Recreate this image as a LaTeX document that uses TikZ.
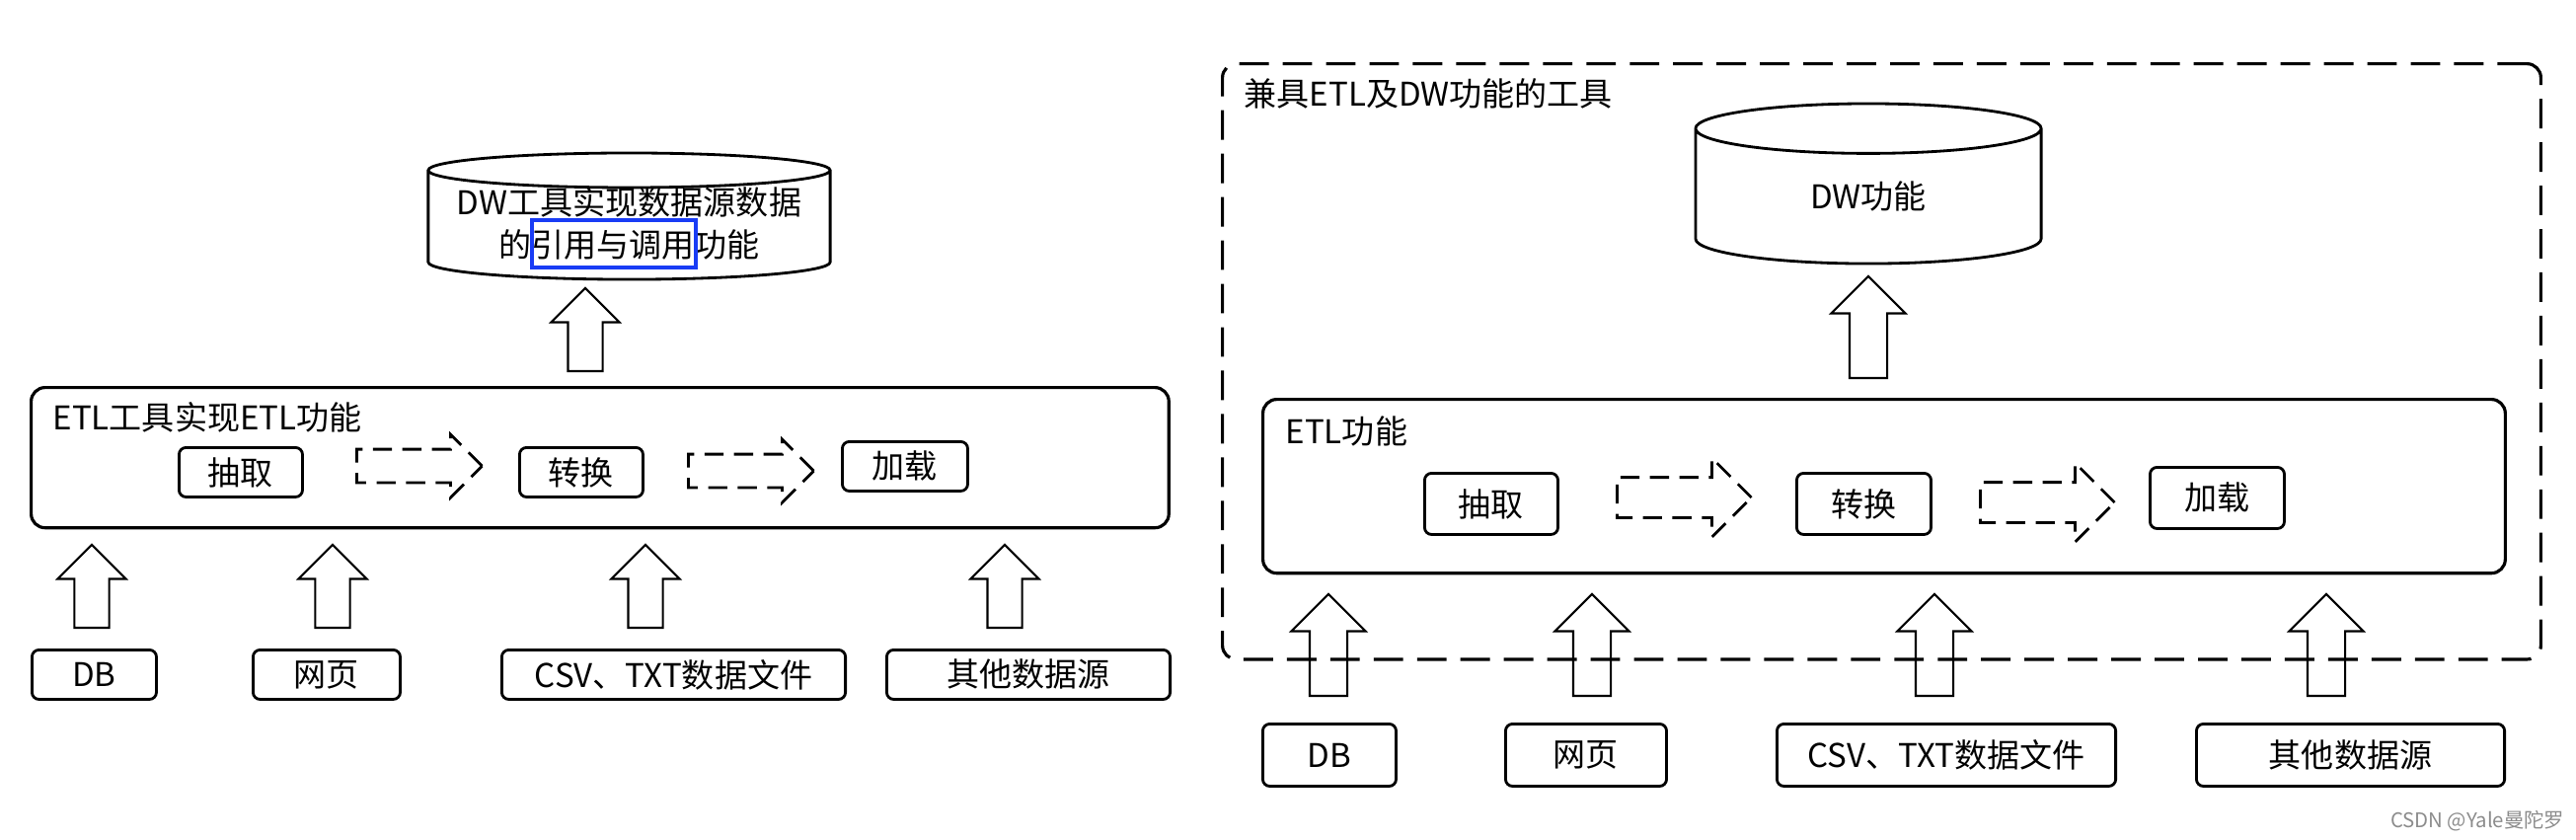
\documentclass[tikz,border=0pt]{standalone}
\usepackage{fontspec}
\setmainfont{Noto Sans CJK SC}
\usetikzlibrary{shapes.geometric,shapes.arrows}
\definecolor{markblue}{RGB}{25,60,245}
\definecolor{wmgray}{RGB}{140,140,140}

\tikzset{
  stepbox/.style={draw, rounded corners=2pt, line width=0.8pt, inner sep=0pt, anchor=north west},
  srcbox/.style={draw, rounded corners=2pt, line width=0.8pt, inner sep=0pt, anchor=north west},
  etlbox/.style={draw, rounded corners=4pt, line width=0.9pt, inner sep=0pt, anchor=north west},
  dwdb/.style={cylinder, draw, line width=0.8pt, shape border rotate=90, inner ysep=0pt, anchor=shape center},
  uparr/.style={single arrow, draw, line width=0.6pt, shape border rotate=90, single arrow tip angle=90,
                single arrow head indent=0pt, anchor=tail, minimum height=0.84cm,
                inner sep=0.165cm, single arrow head extend=0.17cm, minimum width=0.67cm},
  uparrbig/.style={uparr, minimum height=1.03cm, inner sep=0.18cm, single arrow head extend=0.185cm, minimum width=0.73cm},
  flowarr/.style={single arrow, draw, dashed, dash pattern=on 5.5pt off 3pt, line width=0.8pt,
                  single arrow tip angle=90, single arrow head indent=0pt, anchor=tail,
                  minimum height=1.27cm, inner sep=0.155cm, single arrow head extend=0.15cm, minimum width=0.61cm},
  flowarrbig/.style={flowarr, minimum height=1.36cm, inner sep=0.19cm, single arrow head extend=0.195cm, minimum width=0.77cm},
}

\begin{document}
\begin{tikzpicture}[x=0.01cm, y=-0.01cm, every node/.style={font=\fontsize{9.4pt}{12.2pt}\selectfont}]
    \useasboundingbox (0,0) rectangle (2610,850);

    % left: ETL tool + DW tool
    \node[dwdb, inner xsep=2.035cm, minimum width=4.07cm, minimum height=1.28cm, aspect=0.086] (ldw) at (637.5,219) {};
    \node[align=center, inner sep=0pt] (ldwtext) at (637.5,226.5) {DW工具实现数据源数据\\的引用与调用功能};
    \node[draw=markblue, line width=0.9pt, minimum width=1.66cm, minimum height=0.48cm, inner sep=0pt] (lmark) at (622,247) {};
    \node[uparr] (lup) at (593,377) {};

    \node[etlbox, minimum width=11.52cm, minimum height=1.42cm] (letl) at (30,391) {};
    \node[anchor=west, inner sep=0pt] (letltitle) at (53,423) {ETL工具实现ETL功能};
    \node[stepbox, minimum width=1.25cm, minimum height=0.5cm] (lext) at (180,452) {抽取};
    \node[flowarr] (lf1) at (360,472) {};
    \node[stepbox, minimum width=1.25cm, minimum height=0.5cm] (ltra) at (525,452) {转换};
    \node[flowarr] (lf2) at (696,477) {};
    \node[stepbox, minimum width=1.27cm, minimum height=0.5cm] (lload) at (852,446) {加载};

    \node[uparr] (lu1) at (93,637) {};
    \node[uparr] (lu2) at (337,637) {};
    \node[uparr] (lu3) at (654,637) {};
    \node[uparr] (lu4) at (1018,637) {};

    \node[srcbox, minimum width=1.26cm, minimum height=0.5cm] (ldb) at (31,657) {DB};
    \node[srcbox, minimum width=1.49cm, minimum height=0.5cm] (lweb) at (255,657) {网页};
    \node[srcbox, minimum width=3.48cm, minimum height=0.5cm] (lcsv) at (507,657) {CSV、TXT数据文件};
    \node[srcbox, minimum width=2.87cm, minimum height=0.5cm] (lother) at (897,657) {其他数据源};

    % right: one tool with both ETL and DW
    \node[draw, dashed, dash pattern=on 8.5pt off 4pt, line width=0.9pt, rounded corners=4pt, anchor=north west,
          minimum width=13.35cm, minimum height=6.03cm, inner sep=0pt] (tool) at (1237,63) {};
    \node[anchor=west, inner sep=0pt] (tooltitle) at (1260,95) {兼具ETL及DW功能的工具};
    \node[dwdb, inner xsep=1.75cm, minimum width=3.5cm, minimum height=1.62cm, aspect=0.144] (rdw) at (1893,186) {};
    \node[inner sep=0pt] (rdwtext) at (1893,199) {DW功能};
    \node[uparrbig] (rup) at (1893,384) {};

    \node[etlbox, minimum width=12.58cm, minimum height=1.76cm] (retl) at (1278,403) {};
    \node[anchor=west, inner sep=0pt] (retltitle) at (1302,437) {ETL功能};
    \node[stepbox, minimum width=1.35cm, minimum height=0.62cm] (rext) at (1442,478) {抽取};
    \node[flowarrbig] (rf1) at (1637,504) {};
    \node[stepbox, minimum width=1.36cm, minimum height=0.62cm] (rtra) at (1819,478) {转换};
    \node[flowarrbig] (rf2) at (2005,509) {};
    \node[stepbox, minimum width=1.36cm, minimum height=0.62cm] (rload) at (2177,472) {加载};

    \node[uparrbig] (ru1) at (1346,706) {};
    \node[uparrbig] (ru2) at (1613,706) {};
    \node[uparrbig] (ru3) at (1960,706) {};
    \node[uparrbig] (ru4) at (2357,706) {};

    \node[srcbox, minimum width=1.35cm, minimum height=0.63cm] (rdb) at (1278,732) {DB};
    \node[srcbox, minimum width=1.63cm, minimum height=0.63cm] (rweb) at (1524,732) {网页};
    \node[srcbox, minimum width=3.43cm, minimum height=0.63cm] (rcsv) at (1799,732) {CSV、TXT数据文件};
    \node[srcbox, minimum width=3.12cm, minimum height=0.63cm] (rother) at (2224,732) {其他数据源};

    \node[anchor=east, inner sep=0pt, text=wmgray, font=\fontsize{5.8pt}{7pt}\selectfont] (wmark) at (2599,832) {CSDN @Yale曼陀罗};
\end{tikzpicture}
\end{document}
